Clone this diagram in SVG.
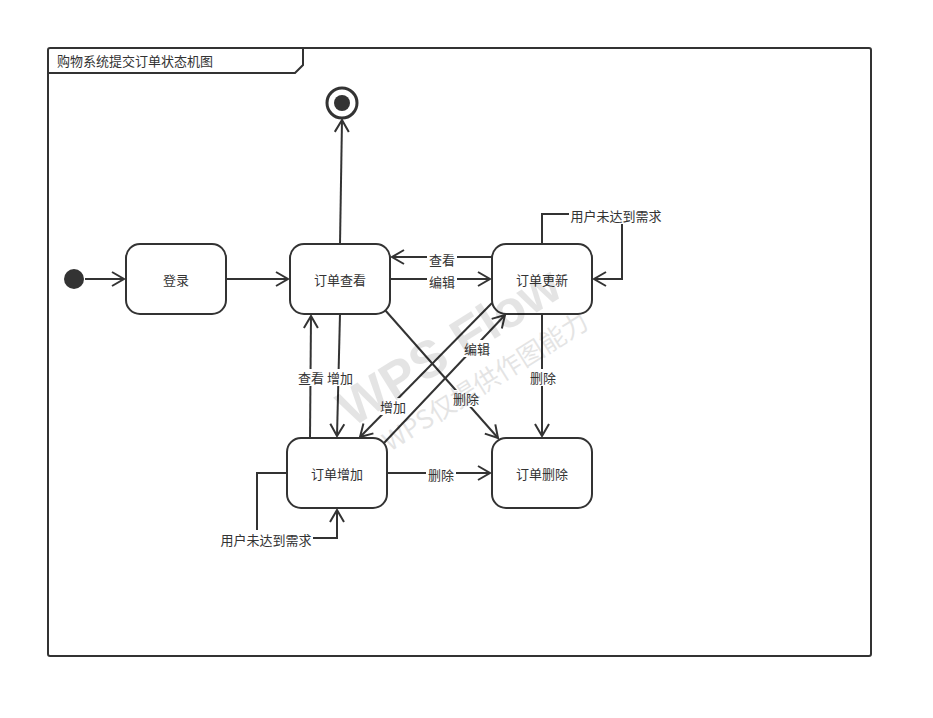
<svg xmlns="http://www.w3.org/2000/svg" width="933" height="718" viewBox="0 0 933 718">
<style>
.ln{fill:none;stroke:#333;stroke-width:2}
.st{fill:#fff;stroke:#333;stroke-width:2}
.t{font-family:"Noto Sans CJK SC","Liberation Sans",sans-serif;font-size:13px;fill:#333;text-anchor:middle;dominant-baseline:central}
.lb{font-family:"Noto Sans CJK SC","Liberation Sans",sans-serif;font-size:13px;fill:#333;text-anchor:middle;dominant-baseline:central}
.bg{fill:#fff}
.wm{fill:#000;opacity:0.1}
</style>
<defs>
<marker id="ah" markerUnits="userSpaceOnUse" markerWidth="16" markerHeight="18" refX="13" refY="8" orient="auto" viewBox="0 0 16 16">
<path d="M1,1 L13,8 L1,15" fill="none" stroke="#333" stroke-width="2"/>
</marker>
</defs>
<rect x="0" y="0" width="933" height="718" fill="#fff"/>
<g id="frame">
<rect x="48" y="48" width="823" height="608" rx="2" class="ln"/>
<path d="M48,73 L295,73 L303,65 L303,48" class="ln"/>
<text x="57" y="60" class="t" style="text-anchor:start">购物系统提交订单状态机图</text>
</g>
<g id="connectors">
<line x1="85" y1="279" x2="124" y2="279" class="ln" marker-end="url(#ah)"/>
<line x1="226" y1="279" x2="288" y2="279" class="ln" marker-end="url(#ah)"/>
<line x1="340" y1="244" x2="342" y2="120" class="ln" marker-end="url(#ah)"/>
<line x1="492" y1="257" x2="392" y2="257" class="ln" marker-end="url(#ah)"/>
<line x1="390" y1="279" x2="490" y2="279" class="ln" marker-end="url(#ah)"/>
<path d="M542,244 L542,214 L570,214" class="ln"/>
<path d="M622,224 L622,279 L594,279" class="ln" marker-end="url(#ah)"/>
<line x1="340" y1="314" x2="337" y2="436" class="ln" marker-end="url(#ah)"/>
<line x1="310" y1="438" x2="311" y2="316" class="ln" marker-end="url(#ah)"/>
<line x1="385" y1="310" x2="498" y2="438" class="ln" marker-end="url(#ah)"/>
<line x1="492" y1="303" x2="360" y2="437" class="ln" marker-end="url(#ah)"/>
<line x1="384" y1="443" x2="505" y2="315" class="ln" marker-end="url(#ah)"/>
<line x1="542" y1="314" x2="542" y2="436" class="ln" marker-end="url(#ah)"/>
<line x1="387" y1="473" x2="490" y2="473" class="ln" marker-end="url(#ah)"/>
<path d="M287,473 L257,473 L257,530" class="ln"/>
<path d="M311,538 L337,538 L337,510" class="ln" marker-end="url(#ah)"/>
<g id="labels">
<rect x="427" y="250" width="30" height="17" class="bg"/><text x="442" y="259" class="lb">查看</text>
<rect x="427" y="272" width="30" height="17" class="bg"/><text x="442" y="281" class="lb">编辑</text>
<rect x="569" y="206" width="94" height="18" class="bg"/><text x="616" y="215" class="lb">用户未达到需求</text>
<rect x="297" y="369" width="28" height="17" class="bg"/><text x="311" y="377" class="lb">查看</text>
<rect x="326" y="369" width="28" height="17" class="bg"/><text x="340" y="377" class="lb">增加</text>
<rect x="451" y="390" width="30" height="17" class="bg"/><text x="466" y="398" class="lb">删除</text>
<rect x="378" y="398" width="30" height="17" class="bg"/><text x="393" y="406" class="lb">增加</text>
<rect x="462" y="340" width="30" height="17" class="bg"/><text x="477" y="348" class="lb">编辑</text>
<rect x="528" y="369" width="30" height="17" class="bg"/><text x="543" y="377" class="lb">删除</text>
<rect x="426" y="466" width="30" height="17" class="bg"/><text x="441" y="474" class="lb">删除</text>
<rect x="219" y="530" width="94" height="18" class="bg"/><text x="266" y="539" class="lb">用户未达到需求</text>
</g>
</g>
<g id="initial"><circle cx="74" cy="279" r="10" fill="#333"/></g>
<g id="final"><circle cx="342" cy="103" r="15" fill="#fff" stroke="#333" stroke-width="3"/><circle cx="342" cy="103" r="8" fill="#333"/></g>
<g id="login"><rect x="126" y="244" width="100" height="70" rx="14" class="st"/><text x="176" y="279" class="t">登录</text></g>
<g id="view"><rect x="290" y="244" width="100" height="70" rx="14" class="st"/><text x="340" y="279" class="t">订单查看</text></g>
<g id="update"><rect x="492" y="244" width="100" height="70" rx="14" class="st"/><text x="542" y="279" class="t">订单更新</text></g>
<g id="add"><rect x="287" y="438" width="100" height="70" rx="14" class="st"/><text x="337" y="473" class="t">订单增加</text></g>
<g id="delete"><rect x="492" y="438" width="100" height="70" rx="14" class="st"/><text x="542" y="473" class="t">订单删除</text></g>
<g id="watermark">
<text x="352" y="428" class="wm" font-size="52" font-weight="bold" font-family="Liberation Sans, sans-serif" transform="rotate(-32 352 428)">WPS Flow</text>
<text x="390" y="452" class="wm" font-size="26" font-family="Noto Sans CJK SC, sans-serif" transform="rotate(-32 390 452)">WPS仅提供作图能力</text>
</g>
</svg>
